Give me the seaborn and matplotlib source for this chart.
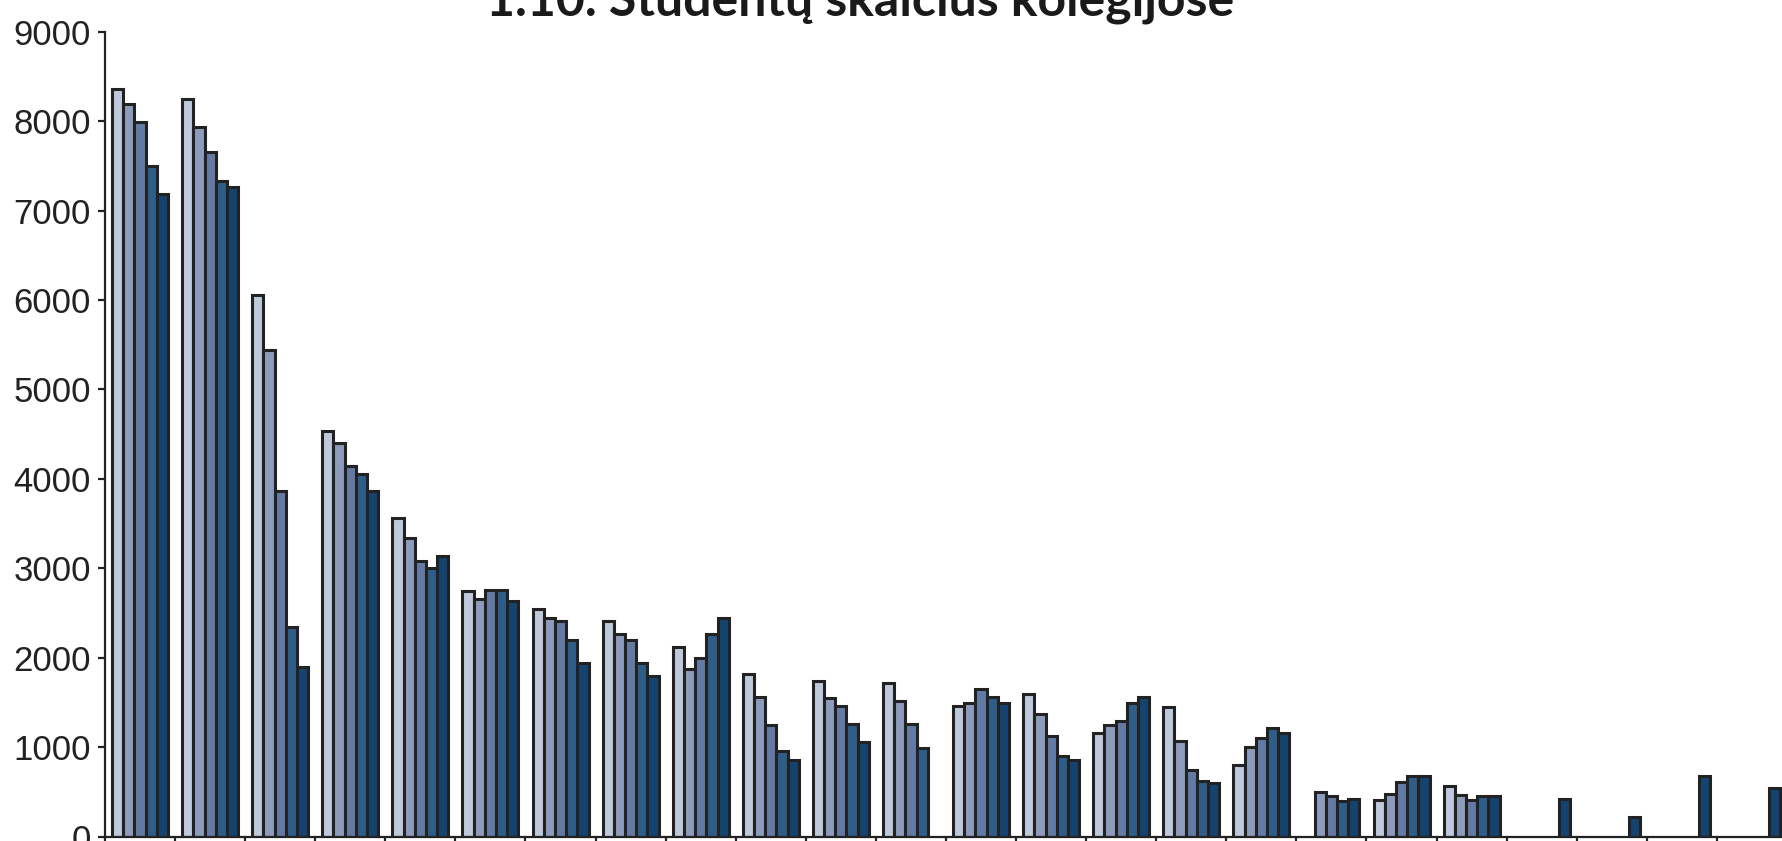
import numpy as np
import pandas as pd
import matplotlib
matplotlib.use("Agg")
import matplotlib.pyplot as plt
import seaborn as sns

# student numbers per college, five successive years (bottom labels are cut off in the source)
colleges = ["K%d" % (i + 1) for i in range(24)]
years = ["1", "2", "3", "4", "5"]
nan = np.nan
year1 = [8360, 8250, 6060, 4540, 3560, 2750, 2550, 2410, 2120, 1820, 1745, 1715,
         1460, 1600, 1155, 1445, 800, nan, 405, 563, nan, nan, nan, nan]
year2 = [8190, 7940, 5440, 4400, 3340, 2660, 2440, 2265, 1870, 1565, 1547, 1515,
         1495, 1370, 1245, 1067, 999, 500, 475, 470, nan, nan, nan, nan]
year3 = [7990, 7660, 3860, 4150, 3080, 2760, 2410, 2195, 1995, 1245, 1460, 1265,
         1655, 1125, 1297, 746, 1107, 458, 615, 405, nan, nan, nan, nan]
year4 = [7500, 7330, 2350, 4050, 3000, 2760, 2200, 1945, 2265, 958, 1260, 995,
         1565, 905, 1490, 623, 1210, 400, 675, 457, nan, nan, nan, nan]
year5 = [7190, 7260, 1900, 3860, 3140, 2640, 1945, 1800, 2445, 855, 1062, nan,
         1495, 854, 1565, 604, 1156, 420, 675, 457, 420, 222, 675, 545]
colors = ["#b9c7e1", "#8599c4", "#5878af", "#1f5e97", "#06447e"]

df = pd.DataFrame({
    "kolegija": colleges * 5,
    "metai": np.repeat(years, len(colleges)),
    "studentai": year1 + year2 + year3 + year4 + year5,
})

fig = plt.figure(figsize=(17.82, 8.41), dpi=100)
ax = fig.add_axes([105 / 1782, 4.3 / 841, 1682 / 1782, 805 / 841])

sns.barplot(data=df, x="kolegija", y="studentai", hue="metai", order=colleges,
            hue_order=years, palette=colors, errorbar=None, width=0.8,
            edgecolor="#222222", linewidth=2.2, legend=False, ax=ax)

ax.set_xlim(-0.5, len(colleges) - 0.5)
ax.set_ylim(0, 9000)
ax.set_yticks(range(0, 9001, 1000))
ax.set_xticks(np.arange(-0.5, len(colleges), 1.0))
ax.set_xticklabels([])
ax.set_xlabel("")
ax.set_ylabel("")
for side in ["top", "right"]:
    ax.spines[side].set_visible(False)
for side in ["left", "bottom"]:
    ax.spines[side].set_linewidth(1.6)
    ax.spines[side].set_color("#222222")
ax.tick_params(axis="both", length=5, width=1.6, color="#222222")
ax.tick_params(axis="y", labelsize=25, labelcolor="#222222", pad=5)
for lab in ax.get_yticklabels():
    lab.set_family("Liberation Sans")

fig.text(860 / 1782, 1 - 15 / 841, "1.10. Studentų skaičius kolegijose",
         ha="center", va="baseline", fontsize=36, fontweight="bold",
         family="Lato", color="#1a1a1a")

fig.savefig("out.png", dpi=100)
